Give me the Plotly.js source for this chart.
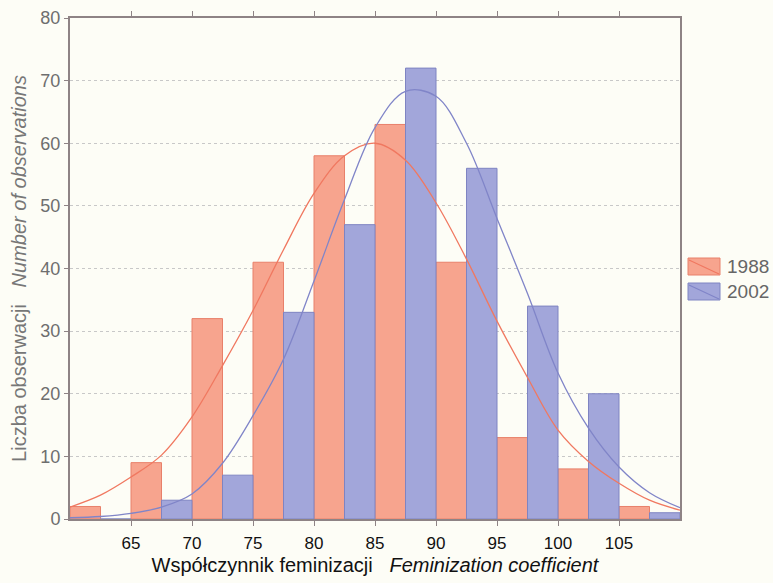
<!DOCTYPE html>
<html>
<head>
<meta charset="utf-8">
<script src="https://cdn.plot.ly/plotly-3.0.1.min.js"></script>
<style>html,body{margin:0;padding:0;background:#fdfdf6;}</style>
</head>
<body>
<div id="chart" style="width:773px;height:583px;"></div>
<script>
// Bin centers (bins of width 5 from 60 to 110)
const binCenters = [62.5, 67.5, 72.5, 77.5, 82.5, 87.5, 92.5, 97.5, 102.5, 107.5];
const counts1988 = [2, 9, 32, 41, 58, 63, 41, 13, 8, 2];
const counts2002 = [0, 3, 7, 33, 47, 72, 56, 34, 20, 1];

// Fitted normal curves
const curveX = [60, 62.5, 65, 67.5, 70, 72.5, 75, 77.5, 80, 82.5, 85, 87.5, 90, 92.5, 95, 97.5, 100, 102.5, 105, 107.5, 110];
const curve1988 = [1.9, 3.8, 6.7, 10.2, 16.3, 24.5, 33.3, 43, 52, 58, 60, 57.3, 50.5, 41.5, 31.6, 22.6, 14.2, 9.2, 5.7, 3.0, 1.4];
const curve2002 = [0.2, 0.4, 0.9, 1.9, 4.0, 8.9, 16.5, 25.5, 38, 51, 62.5, 68.3, 67.5, 60, 48, 36, 23.3, 14.5, 8.3, 4.2, 1.8];

const xTicks = [65, 70, 75, 80, 85, 90, 95, 100, 105];
const yTicks = [0, 10, 20, 30, 40, 50, 60, 70, 80];
const seriesNames = ['1988', '2002'];

const fill1988 = '#f7a48e', edge1988 = '#e8806a', curveCol1988 = '#f07860';
const fill2002 = '#a2a6da', edge2002 = '#7f84c2', curveCol2002 = '#8085c8';

const traces = [
  {
    type: 'bar', name: seriesNames[0], x: binCenters, y: counts1988,
    marker: {color: fill1988, line: {color: edge1988, width: 1}}
  },
  {
    type: 'bar', name: seriesNames[1], x: binCenters, y: counts2002,
    marker: {color: fill2002, line: {color: edge2002, width: 1}}
  },
  {
    type: 'scatter', mode: 'lines', x: curveX, y: curve1988,
    line: {color: curveCol1988, width: 1.3, shape: 'spline', smoothing: 1}
  },
  {
    type: 'scatter', mode: 'lines', x: curveX, y: curve2002,
    line: {color: curveCol2002, width: 1.3, shape: 'spline', smoothing: 1}
  }
];

// Manual legend (paper coordinates relative to plot area: l=70, w=610, t=18, h=501)
function px2x(px) { return (px - 70) / 610; }
function py2y(py) { return (519 - py) / 501; }
const legendShapes = [];
const legendAnns = [];
[[seriesNames[0], fill1988, edge1988, curveCol1988, 258], [seriesNames[1], fill2002, edge2002, curveCol2002, 283]].forEach(function (it) {
  const top = it[4], bot = top + 17;
  legendShapes.push({type: 'rect', xref: 'paper', yref: 'paper', x0: px2x(688), x1: px2x(720), y0: py2y(bot), y1: py2y(top),
    fillcolor: it[1], line: {color: it[2], width: 1}});
  legendShapes.push({type: 'line', xref: 'paper', yref: 'paper', x0: px2x(689), x1: px2x(719), y0: py2y(top + 2), y1: py2y(bot - 1),
    line: {color: it[3], width: 1.2}});
  legendAnns.push({xref: 'paper', yref: 'paper', x: px2x(725), y: py2y(top + 8.5), xanchor: 'left', yanchor: 'middle',
    text: it[0], showarrow: false, font: {size: 19, color: '#666'}});
});

const layout = {
  width: 773, height: 583,
  margin: {l: 70, r: 93, t: 18, b: 64},
  paper_bgcolor: '#fdfdf6',
  plot_bgcolor: '#fdfdf6',
  font: {family: "'Liberation Sans', Arial, sans-serif", size: 16, color: '#222'},
  barmode: 'group', bargap: 0, bargroupgap: 0,
  showlegend: false,
  xaxis: {
    range: [60, 110], tickvals: xTicks, ticktext: xTicks.map(String),
    showgrid: false, zeroline: false,
    showline: true, linecolor: '#8e8385', linewidth: 2, mirror: 'ticks',
    ticks: 'outside', ticklen: 5, tickcolor: '#8e8385', tickwidth: 1,
    ticklabelstandoff: 3,
    tickfont: {size: 17, color: '#111'},
    title: {text: 'Współczynnik feminizacji&nbsp;&nbsp;&nbsp;<i>Feminization coefficient</i>', font: {size: 20, color: '#111'}, standoff: 6}
  },
  yaxis: {
    range: [0, 80], tickvals: yTicks, ticktext: yTicks.map(String),
    showgrid: true, gridcolor: '#c8c8c8', griddash: 'dot', gridwidth: 1,
    zeroline: false,
    showline: true, linecolor: '#8e8385', linewidth: 2, mirror: true,
    ticks: 'outside', ticklen: 4, tickcolor: '#8e8385', tickwidth: 1,
    tickfont: {size: 18, color: '#6e6e6e'},
    title: {text: 'Liczba obserwacji&nbsp;&nbsp;&nbsp;<i>Number of observations</i>', font: {size: 20, color: '#777'}, standoff: 8}
  },
  shapes: legendShapes,
  annotations: legendAnns
};

Plotly.newPlot('chart', traces, layout, {displayModeBar: false, staticPlot: true});
</script>
</body>
</html>
